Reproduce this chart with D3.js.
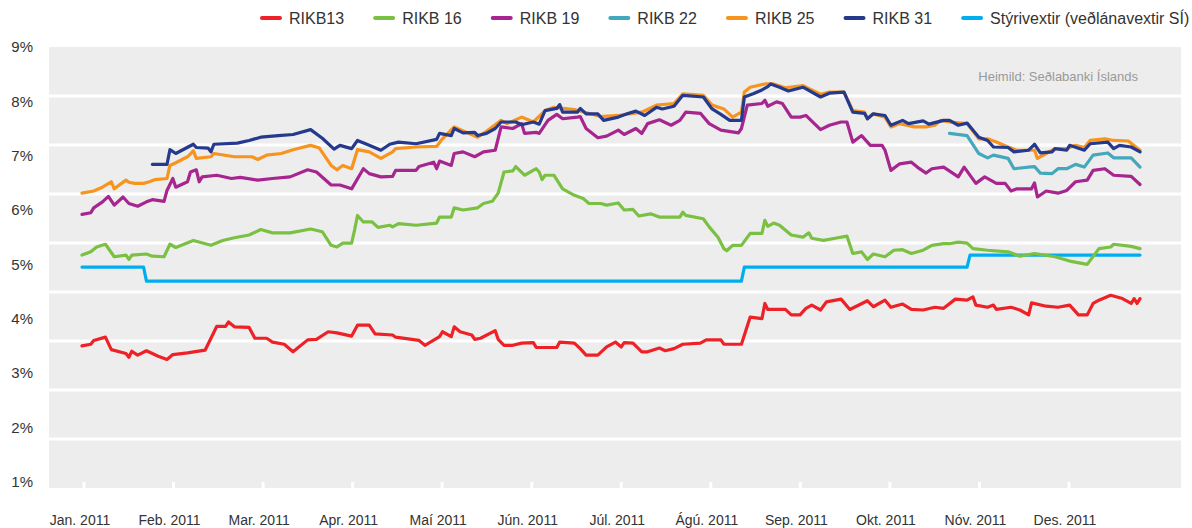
<!DOCTYPE html>
<html>
<head>
<meta charset="utf-8">
<script src="https://cdn.jsdelivr.net/npm/d3@7"></script>
<style>
  body { margin: 0; background: #fff; }
  svg { display: block; font-family: "Liberation Sans", Arial, sans-serif; }
</style>
</head>
<body>
<svg width="1192" height="528"></svg>
<script>
// day of year 2011, yield in %
var rikb13 = [[3,3.50],[6,3.53],[7,3.60],[11,3.66],[13,3.43],[18,3.36],[19,3.29],[20,3.40],[22,3.33],[25,3.41],[29,3.31],[32,3.25],[34,3.34],[39,3.37],[45,3.42],[47,3.64],[49,3.86],[52,3.86],[53,3.94],[55,3.85],[60,3.84],[62,3.64],[66,3.64],[68,3.57],[72,3.53],[75,3.39],[80,3.61],[83,3.62],[87,3.76],[90,3.74],[95,3.68],[97,3.88],[101,3.88],[103,3.72],[109,3.70],[110,3.66],[118,3.60],[120,3.51],[125,3.67],[126,3.76],[129,3.67],[130,3.85],[132,3.76],[136,3.70],[137,3.62],[139,3.64],[144,3.78],[145,3.62],[147,3.51],[150,3.51],[153,3.55],[157,3.56],[158,3.47],[165,3.47],[166,3.57],[171,3.55],[173,3.45],[175,3.33],[179,3.33],[182,3.48],[185,3.57],[187,3.48],[188,3.56],[191,3.55],[194,3.39],[196,3.39],[200,3.46],[202,3.41],[205,3.45],[208,3.53],[214,3.55],[216,3.61],[221,3.61],[222,3.53],[228,3.53],[231,4.03],[235,4.00],[236,4.28],[237,4.17],[243,4.17],[245,4.07],[248,4.07],[250,4.19],[252,4.25],[255,4.16],[257,4.31],[262,4.36],[265,4.17],[271,4.33],[273,4.22],[277,4.34],[279,4.21],[283,4.27],[286,4.17],[290,4.16],[294,4.21],[297,4.19],[301,4.36],[305,4.34],[307,4.40],[308,4.25],[312,4.21],[314,4.25],[315,4.17],[320,4.21],[323,4.16],[326,4.07],[327,4.29],[332,4.23],[336,4.21],[340,4.25],[343,4.07],[346,4.07],[348,4.28],[350,4.34],[354,4.43],[358,4.37],[361,4.28],[362,4.37],[363,4.28],[364,4.37]];

var rikb16 = [[3,5.17],[6,5.23],[8,5.32],[11,5.37],[14,5.14],[18,5.17],[19,5.09],[20,5.17],[25,5.19],[27,5.15],[31,5.14],[33,5.37],[35,5.31],[41,5.44],[47,5.35],[51,5.44],[55,5.49],[60,5.54],[64,5.64],[68,5.58],[74,5.58],[81,5.65],[85,5.60],[88,5.35],[90,5.32],[92,5.39],[95,5.39],[96,5.63],[97,5.90],[99,5.78],[102,5.78],[104,5.68],[108,5.72],[109,5.69],[111,5.75],[117,5.72],[124,5.76],[125,5.87],[129,5.87],[130,6.04],[133,6.00],[138,6.04],[140,6.12],[143,6.16],[145,6.31],[147,6.70],[150,6.72],[151,6.80],[154,6.64],[158,6.76],[159,6.70],[160,6.56],[161,6.64],[164,6.64],[167,6.39],[171,6.27],[174,6.21],[176,6.12],[180,6.12],[182,6.09],[186,6.13],[188,6.00],[191,6.01],[193,5.89],[197,5.93],[200,5.87],[207,5.87],[208,5.96],[209,5.90],[215,5.84],[217,5.69],[220,5.50],[222,5.29],[223,5.25],[225,5.35],[228,5.35],[231,5.57],[235,5.57],[236,5.81],[237,5.70],[239,5.76],[241,5.72],[245,5.54],[249,5.50],[251,5.58],[252,5.48],[256,5.44],[260,5.48],[264,5.52],[266,5.20],[269,5.23],[271,5.09],[273,5.19],[277,5.14],[280,5.26],[283,5.27],[286,5.20],[290,5.26],[293,5.35],[297,5.38],[299,5.38],[302,5.41],[305,5.39],[307,5.29],[312,5.26],[319,5.23],[323,5.15],[328,5.20],[335,5.14],[340,5.06],[346,5.00],[350,5.29],[354,5.32],[355,5.37],[361,5.33],[364,5.29]];

var rikb19 = [[3,5.92],[6,5.95],[7,6.04],[10,6.15],[12,6.25],[14,6.09],[17,6.24],[19,6.12],[22,6.07],[25,6.15],[27,6.19],[31,6.16],[32,6.36],[34,6.58],[35,6.42],[39,6.52],[40,6.70],[42,6.74],[43,6.52],[44,6.61],[49,6.64],[54,6.58],[57,6.60],[63,6.55],[68,6.58],[74,6.61],[80,6.74],[83,6.70],[88,6.46],[91,6.46],[95,6.39],[99,6.76],[101,6.67],[105,6.61],[109,6.62],[110,6.73],[117,6.73],[118,6.80],[123,6.88],[124,6.76],[125,6.90],[129,6.82],[130,7.04],[133,7.07],[137,6.98],[140,7.07],[144,7.10],[146,7.53],[150,7.50],[153,7.59],[154,7.41],[158,7.43],[159,7.41],[162,7.65],[165,7.76],[167,7.68],[172,7.71],[173,7.72],[175,7.50],[179,7.33],[182,7.36],[186,7.47],[188,7.39],[192,7.50],[194,7.41],[196,7.59],[200,7.66],[204,7.56],[207,7.65],[209,7.80],[214,7.78],[217,7.59],[221,7.47],[227,7.42],[228,7.50],[230,7.93],[235,7.96],[236,8.02],[237,7.91],[240,7.99],[242,7.96],[245,7.71],[248,7.71],[250,7.74],[255,7.48],[258,7.56],[262,7.62],[264,7.62],[266,7.25],[269,7.37],[272,7.19],[276,7.19],[277,7.10],[279,6.73],[282,6.85],[286,6.88],[288,6.79],[291,6.68],[293,6.76],[297,6.79],[302,6.61],[304,6.79],[308,6.49],[311,6.61],[315,6.49],[318,6.49],[320,6.35],[322,6.39],[327,6.39],[328,6.50],[329,6.24],[332,6.35],[336,6.31],[339,6.36],[342,6.52],[346,6.55],[348,6.73],[352,6.76],[355,6.64],[361,6.62],[364,6.47]];

var rikb22 = [[299,7.41],[305,7.37],[309,7.04],[312,6.96],[314,7.01],[319,6.95],[321,6.76],[326,6.79],[328,6.80],[330,6.68],[334,6.67],[336,6.76],[339,6.76],[342,6.84],[345,6.79],[348,7.01],[353,7.05],[355,6.96],[361,6.96],[364,6.79]];

var rikb25 = [[3,6.31],[7,6.35],[10,6.42],[13,6.52],[14,6.39],[18,6.55],[19,6.51],[21,6.49],[24,6.49],[26,6.52],[28,6.56],[32,6.58],[33,6.82],[35,6.87],[39,6.98],[41,7.09],[42,6.95],[47,6.98],[48,7.04],[55,6.98],[61,6.98],[63,6.93],[66,7.01],[71,7.04],[75,7.11],[81,7.19],[84,7.14],[88,6.82],[90,6.74],[92,6.82],[95,6.76],[97,7.11],[101,7.07],[105,6.95],[109,7.07],[110,7.13],[117,7.16],[124,7.17],[126,7.31],[130,7.53],[138,7.34],[141,7.45],[146,7.65],[148,7.59],[153,7.71],[157,7.62],[161,7.83],[164,7.89],[171,7.85],[180,7.72],[186,7.74],[194,7.80],[199,7.93],[205,7.96],[208,8.14],[215,8.11],[218,7.93],[222,7.86],[225,7.71],[228,7.80],[229,8.17],[231,8.26],[236,8.32],[239,8.32],[243,8.25],[249,8.29],[255,8.13],[258,8.17],[263,8.17],[266,7.83],[270,7.80],[271,7.68],[273,7.77],[277,7.71],[279,7.53],[282,7.59],[287,7.53],[291,7.53],[294,7.56],[296,7.65],[299,7.62],[305,7.59],[309,7.31],[312,7.31],[315,7.25],[319,7.16],[322,7.10],[328,7.10],[329,6.95],[332,7.04],[335,7.13],[339,7.13],[342,7.19],[345,7.15],[347,7.28],[352,7.31],[355,7.28],[360,7.27],[364,7.10]];

var rikb31 = [[27,6.84],[32,6.84],[33,7.11],[35,7.04],[41,7.21],[42,7.15],[46,7.14],[47,7.07],[48,7.21],[56,7.23],[60,7.28],[64,7.34],[70,7.37],[75,7.39],[81,7.48],[85,7.32],[89,7.12],[91,7.19],[95,7.13],[97,7.28],[101,7.19],[105,7.10],[108,7.21],[111,7.25],[117,7.22],[124,7.30],[125,7.41],[129,7.37],[130,7.50],[133,7.42],[137,7.43],[138,7.37],[141,7.41],[144,7.50],[146,7.62],[151,7.62],[153,7.57],[157,7.62],[159,7.58],[161,7.83],[165,7.87],[166,7.94],[167,7.80],[172,7.80],[173,7.87],[175,7.77],[179,7.77],[181,7.65],[186,7.71],[189,7.77],[192,7.82],[195,7.74],[199,7.89],[201,7.86],[205,7.91],[208,8.11],[215,8.08],[218,7.86],[221,7.76],[224,7.65],[228,7.65],[229,8.08],[232,8.14],[235,8.21],[237,8.27],[238,8.32],[241,8.26],[244,8.19],[249,8.26],[255,8.08],[258,8.15],[263,8.17],[266,7.80],[270,7.78],[271,7.68],[273,7.77],[277,7.74],[279,7.56],[283,7.65],[285,7.59],[290,7.64],[292,7.58],[297,7.65],[299,7.65],[302,7.56],[305,7.60],[309,7.34],[312,7.28],[314,7.16],[319,7.15],[321,7.07],[326,7.10],[328,7.21],[330,7.05],[334,7.07],[335,7.13],[339,7.10],[340,7.19],[345,7.10],[347,7.22],[353,7.25],[355,7.13],[357,7.19],[361,7.16],[364,7.07]];

var styrivextir = [[3,4.95],[24,4.95],[25,4.69],[228,4.69],[229,4.95],[305,4.95],[306,5.17],[364,5.17]];

var seriesNames = ["RIKB13", "RIKB 16", "RIKB 19", "RIKB 22", "RIKB 25", "RIKB 31", "Stýrivextir (veðlánavextir SÍ)"];
var seriesColors = ["#ee2127", "#7ac143", "#a6258f", "#44a8bd", "#f7941d", "#253a8c", "#00aeef"];
var seriesData = [rikb13, rikb16, rikb19, rikb22, rikb25, rikb31, styrivextir];

var monthLabels = ["Jan. 2011", "Feb. 2011", "Mar. 2011", "Apr. 2011", "Maí 2011", "Jún. 2011", "Júl. 2011", "Ágú. 2011", "Sep. 2011", "Okt. 2011", "Nóv. 2011", "Des. 2011"];
var yTicks = [1, 2, 3, 4, 5, 6, 7, 8, 9];
var gridTicks = [1, 2, 3, 4, 5, 6, 7, 8];
var sourceText = "Heimild: Seðlabanki Íslands";

var svg = d3.select("svg");

var plot = { left: 49, right: 1181, top: 47, bottom: 488 };

var xScale = d3.scaleTime()
    .domain([new Date(2011, 0, 3), new Date(2011, 11, 30)])
    .range([82, 1140]);

var yScale = d3.scaleLinear()
    .domain([1, 9])
    .range([481.7, 47]);

// the white lines in the panel are spaced on their own, not on the labels
var gridScale = d3.scaleLinear()
    .domain([0, 9])
    .range([plot.bottom, plot.top]);

var monthScale = d3.scalePoint()
    .domain(monthLabels)
    .range([80, 1065]);

var dayToDate = d => new Date(2011, 0, d);

// grey panel
svg.append("rect")
    .attr("x", plot.left)
    .attr("y", plot.top)
    .attr("width", plot.right - plot.left)
    .attr("height", plot.bottom - plot.top)
    .attr("fill", "#ededed");

svg.append("g")
    .selectAll("line")
    .data(gridTicks)
    .join("line")
    .attr("x1", plot.left)
    .attr("x2", plot.right)
    .attr("y1", d => gridScale(d))
    .attr("y2", d => gridScale(d))
    .attr("stroke", "#fff")
    .attr("stroke-width", 3);

// small white month ticks at the bottom of the panel
svg.append("g")
    .selectAll("line")
    .data(monthLabels)
    .join("line")
    .attr("x1", d => monthScale(d) + 4)
    .attr("x2", d => monthScale(d) + 4)
    .attr("y1", plot.bottom - 6)
    .attr("y2", plot.bottom)
    .attr("stroke", "#fff")
    .attr("stroke-width", 3);

// y labels
svg.append("g")
    .selectAll("text")
    .data(yTicks)
    .join("text")
    .attr("x", 33)
    .attr("y", d => yScale(d))
    .attr("dy", "0.35em")
    .attr("text-anchor", "end")
    .attr("font-size", 15)
    .attr("fill", "#333")
    .text(d => d + "%");

// x labels
svg.append("g")
    .selectAll("text")
    .data(monthLabels)
    .join("text")
    .attr("x", d => monthScale(d))
    .attr("y", 520)
    .attr("dy", "0.35em")
    .attr("text-anchor", "middle")
    .attr("font-size", 14)
    .attr("fill", "#333")
    .text(d => d);

svg.append("text")
    .attr("x", 1138)
    .attr("y", 76)
    .attr("dy", "0.35em")
    .attr("text-anchor", "end")
    .attr("font-size", 13)
    .attr("fill", "#999")
    .text(sourceText);

var lineGenerator = d3.line()
    .x(d => xScale(dayToDate(d[0])))
    .y(d => yScale(d[1]));

// draw order: policy rate, then bonds, RIKB 31 on top
var drawOrder = [6, 0, 1, 2, 3, 4, 5];
svg.append("g")
    .selectAll("path")
    .data(drawOrder)
    .join("path")
    .attr("d", i => lineGenerator(seriesData[i]))
    .attr("fill", "none")
    .attr("stroke", i => seriesColors[i])
    .attr("stroke-width", 3.2)
    .attr("stroke-linejoin", "round")
    .attr("stroke-linecap", "round");

// legend
var legend = svg.append("g");
var lx = 260;
seriesNames.forEach((name, i) => {
    legend.append("line")
        .attr("x1", lx + 2)
        .attr("x2", lx + 20)
        .attr("y1", 18)
        .attr("y2", 18)
        .attr("stroke", seriesColors[i])
        .attr("stroke-width", 4)
        .attr("stroke-linecap", "round");
    var t = legend.append("text")
        .attr("x", lx + 29)
        .attr("y", 18)
        .attr("dy", "0.35em")
        .attr("font-size", 16)
        .attr("fill", "#333")
        .text(name);
    lx += 29 + t.node().getComputedTextLength() + 29;
});
</script>
</body>
</html>
